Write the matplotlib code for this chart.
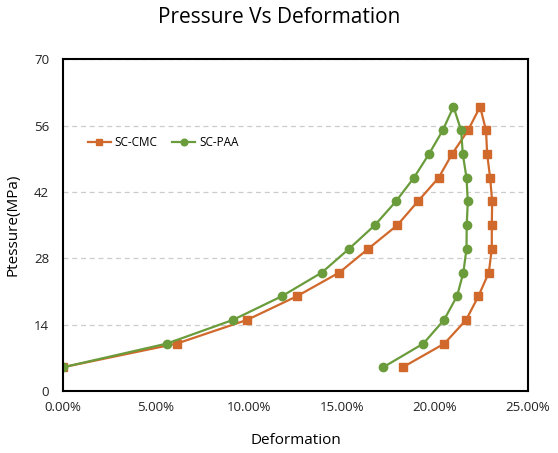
import numpy as np
import matplotlib
matplotlib.use('Agg')
import matplotlib.pyplot as plt
from matplotlib.ticker import FuncFormatter

plt.rcParams['font.family'] = ['Open Sans', 'DejaVu Sans']

pressure = [5, 10, 15, 20, 25, 30, 35, 40, 45, 50, 55, 60,
            55, 50, 45, 40, 35, 30, 25, 20, 15, 10, 5]
cmc_def = [0.00, 6.12, 9.90, 12.58, 14.86, 16.41, 17.98, 19.08, 20.20, 20.92, 21.78, 22.43,
           22.75, 22.81, 22.97, 23.08, 23.06, 23.06, 22.90, 22.34, 21.68, 20.51, 18.27]
paa_def = [0.00, 5.59, 9.14, 11.77, 13.92, 15.38, 16.77, 17.90, 18.87, 19.68, 20.42, 21.00,
           21.41, 21.50, 21.70, 21.77, 21.71, 21.70, 21.53, 21.19, 20.49, 19.38, 17.22]

orange = '#D0692B'
green = '#6A9C3C'

fig = plt.figure(figsize=(5.58, 4.53), dpi=100)
ax = fig.add_axes([0.113, 0.137, 0.833, 0.732])

ax.plot(np.array(cmc_def) / 100, pressure, color=orange, lw=1.6, marker='s', ms=6, label='SC-CMC')
ax.plot(np.array(paa_def) / 100, pressure, color=green, lw=1.6, marker='o', ms=6, label='SC-PAA')

ax.set_xlim(0, 0.25)
ax.set_ylim(0, 70)
ax.set_xticks(np.arange(0, 0.26, 0.05))
ax.set_yticks(np.arange(0, 71, 14))
ax.xaxis.set_major_formatter(FuncFormatter(lambda v, p: '%.2f%%' % (v * 100)))
ax.tick_params(length=0, labelsize=9.5, colors='#222222', pad=7)
ax.tick_params(axis='y', pad=10)
ax.grid(axis='y', ls=(0, (4, 3)), color='#cccccc', lw=0.9)
for s in ax.spines.values():
    s.set_linewidth(1.5)
    s.set_color('black')

ax.set_xlabel('Deformation', fontsize=11, labelpad=14)
ax.set_ylabel('Ptessure(MPa)', fontsize=11, labelpad=10)
fig.suptitle('Pressure Vs Deformation', fontsize=15, y=0.985)

ax.legend(loc='upper left', bbox_to_anchor=(0.03, 0.8), frameon=False, ncol=2,
          fontsize=8.5, handlelength=2.0, columnspacing=1.2, handletextpad=0.3,
          markerscale=0.8)

fig.savefig('out.png', dpi=100)
